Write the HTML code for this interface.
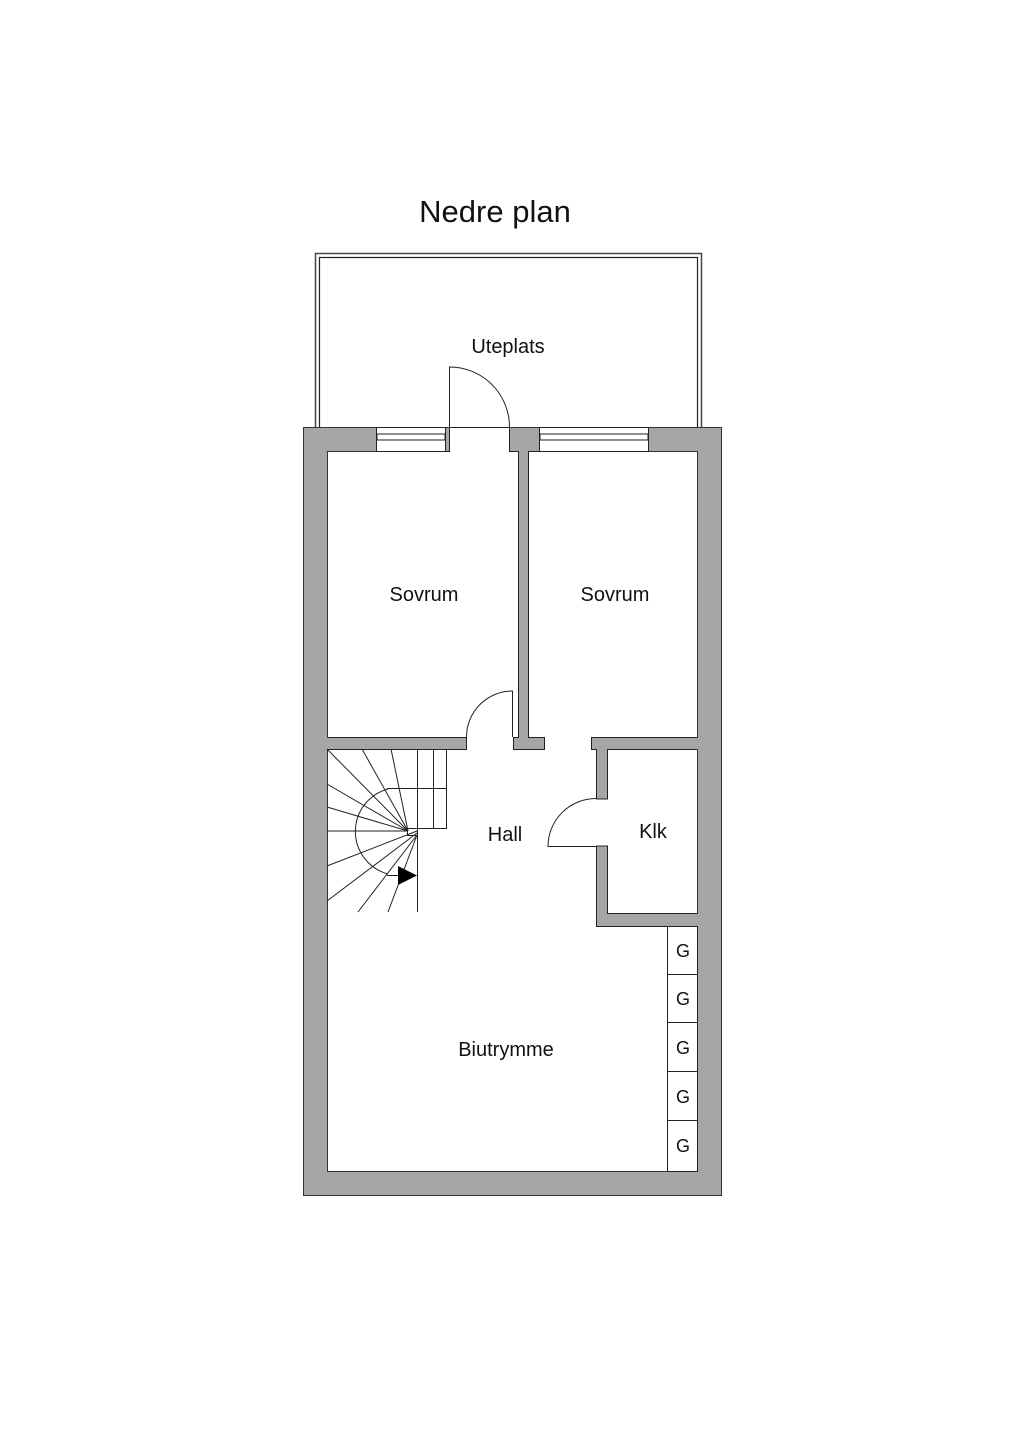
<!DOCTYPE html>
<html><head><meta charset="utf-8"><style>
html,body{margin:0;padding:0;background:#fff}
svg{display:block}
text{font-family:"Liberation Sans",sans-serif;fill:#111}
</style></head><body>
<svg width="1024" height="1448" viewBox="0 0 1024 1448" xmlns="http://www.w3.org/2000/svg">
<rect width="1024" height="1448" fill="#fff"/>
<text x="495" y="222" font-size="31" text-anchor="middle">Nedre plan</text>
<rect x="315.5" y="253.5" width="386" height="190" fill="none" stroke="#444" stroke-width="1.5"/>
<rect x="319.5" y="257.5" width="378" height="190" fill="none" stroke="#222" stroke-width="1.2"/>
<path d="M303.5 427.5 H721.5 V1195.5 H303.5 Z M327.5 451.5 V1171.5 H697.5 V451.5 Z" fill="#a6a6a6" fill-rule="evenodd" stroke="#333" stroke-width="1"/>
<g fill="#a6a6a6">
<path d="M509 428 H539 V452 H529 V737 H545 V749.5 H513 V737 H518.5 V452 H509 Z"/>
<rect x="326" y="737.5" width="140.5" height="12"/>
<path d="M591.5 737.5 H699 V749.5 H607.5 V799 H596.5 V749.5 H591.5 Z"/>
<path d="M596.5 846 H607.5 V913.5 H699 V926.5 H596.5 Z"/>
</g>
<g fill="none" stroke="#222" stroke-width="1">
<path d="M509.5 427.5 V451.5 H518.5 V737.5 H513.5 V749.5 H544.5 V737.5 H528.5 V451.5 H539"/>
<path d="M327.5 737.5 H466.5 V749.5 H327.5"/>
<path d="M697.5 737.5 H591.5 V749.5 H596.5 V799 H607.5 V749.5 H697.5"/>
<path d="M697.5 926.5 H596.5 V846 H607.5 V913.5 H697.5"/>
</g>
<rect x="449" y="427" width="60" height="25.5" fill="#fff"/>
<path d="M449.5 427.5 H509.5 M449.5 427.5 V451.5 H446 M509.5 427.5 V451.5 H518.5" fill="none" stroke="#222"/>
<g fill="#fff" stroke="#222" stroke-width="1">
<rect x="376.5" y="427.5" width="69" height="24"/>
<rect x="539.5" y="427.5" width="109" height="24"/>
<rect x="377" y="434" width="68" height="6"/>
<rect x="540" y="434" width="108" height="6"/>
</g>
<g fill="none" stroke="#222" stroke-width="1">
<path d="M449.5 427 V367 A60 60 0 0 1 509.5 427"/>
<path d="M512.5 737 V691 A46 46 0 0 0 466.5 737"/>
<path d="M596 846.5 H548 A48 48 0 0 1 596 798.5"/>
</g>
<g fill="none" stroke="#222" stroke-width="1">
<path d="M417.5 749.5 V828 M433.5 749.5 V828 M446.5 749.5 V828.5 H417"/>
<path d="M387 788.5 H446.5"/>
<rect x="407.5" y="828.5" width="10" height="7"/>
<path d="M417.5 835.5 V912"/>
<path d="M388 789 A44 44 0 0 0 388 874"/>
<path d="M387 875.5 H405"/>
<line x1="408" y1="831" x2="327" y2="749"/>
<line x1="408" y1="831" x2="362" y2="749"/>
<line x1="408" y1="831" x2="391" y2="749"/>
<line x1="408" y1="831" x2="327" y2="784"/>
<line x1="408" y1="831" x2="327" y2="807"/>
<line x1="408" y1="831" x2="327" y2="831"/>
<line x1="417" y1="831" x2="327" y2="866"/>
<line x1="417" y1="833" x2="327" y2="901"/>
<line x1="417" y1="835" x2="358" y2="912"/>
<line x1="417" y1="835" x2="388" y2="912"/>
</g>
<path d="M398 866 L417 875.5 L398 885 Z" fill="#000"/>
<g fill="#fff" stroke="#222" stroke-width="1">
<rect x="667.5" y="926.5" width="30" height="245"/>
<path d="M667.5 974.5 H697.5 M667.5 1022.5 H697.5 M667.5 1071.5 H697.5 M667.5 1120.5 H697.5"/>
</g>
<g font-size="18" text-anchor="middle">
<text x="683" y="957">G</text><text x="683" y="1005">G</text><text x="683" y="1054">G</text><text x="683" y="1103">G</text><text x="683" y="1152">G</text>
</g>
<g font-size="20" text-anchor="middle">
<text x="508" y="353">Uteplats</text>
<text x="424" y="601">Sovrum</text>
<text x="615" y="601">Sovrum</text>
<text x="505" y="841">Hall</text>
<text x="653" y="838">Klk</text>
<text x="506" y="1056">Biutrymme</text>
</g>
</svg>
</body></html>
